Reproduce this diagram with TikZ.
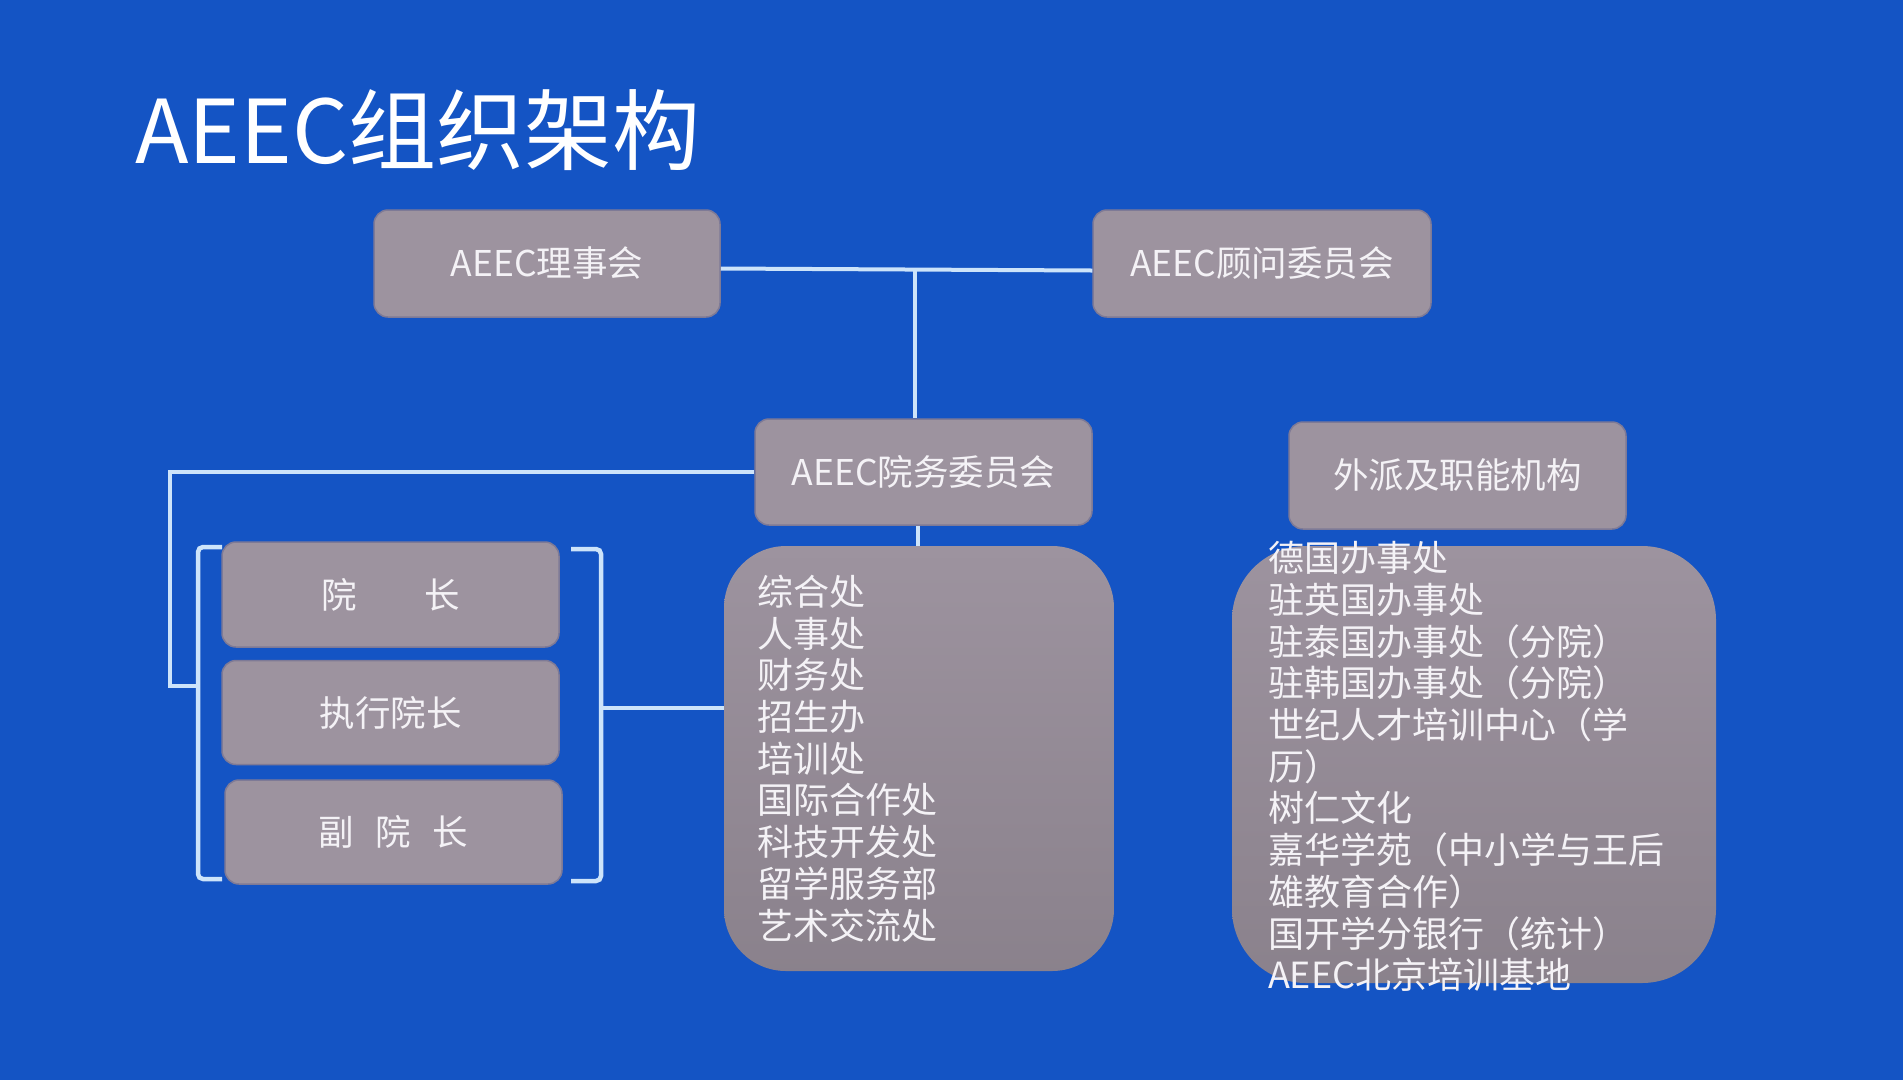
\documentclass[tikz,border=0pt]{standalone}
\usepackage{fontspec}
\setmainfont{Noto Sans CJK SC}
\usetikzlibrary{positioning}
\definecolor{aeecbg}{RGB}{20,84,196}
\definecolor{aeecbox}{RGB}{157,147,159}
\definecolor{aeecedge}{RGB}{126,122,150}
\definecolor{aeecline}{RGB}{205,228,250}
\definecolor{aeectext}{RGB}{244,242,246}
\tikzset{
  unitbox/.style={draw=aeecedge, line width=1.5pt, rounded corners=14pt, fill=aeecbox,
    text=aeectext, minimum width=337pt, minimum height=106pt, inner sep=0pt,
    font=\fontsize{35.5}{40}\selectfont},
  listbox/.style={draw=none, top color=aeecbox!100!white, bottom color=aeecbox!88!black,
    inner sep=0pt},
  listtext/.style={text=aeectext, align=left, inner sep=0pt, anchor=west,
    font=\fontsize{36}{41.7}\selectfont},
  link/.style={draw=aeecline, line width=4pt},
  bracket/.style={draw=aeecline, line width=4.5pt, rounded corners=5pt}
}
\begin{document}
\begin{tikzpicture}[x=1pt, y=-1pt, node distance=13pt]
    \fill[aeecbg] (0,0) rectangle (1903,1080);
    \node[anchor=west, text=white, inner sep=0pt, font=\fontsize{88}{100}\selectfont] (title) at (135,130) {AEEC组织架构};

    % top level
    \node[unitbox, minimum width=346pt, minimum height=107pt] (board) at (547,263.5) {AEEC理事会};
    \node[unitbox, minimum width=338pt, minimum height=107pt] (advisors) at (1262,263.5) {AEEC顾问委员会};
    \node[unitbox] (council) at (923.5,472) {AEEC院务委员会};
    \node[unitbox, minimum height=107pt] (outlets) at (1457.5,475.5) {外派及职能机构};

    % deans
    \node[unitbox, minimum height=105pt] (dean) at (390.5,594.5) {院\hspace{1.9em}长};
    \node[unitbox, minimum height=104pt, below=12pt of dean] (execdean) {执行院长};
    \node[unitbox, minimum height=104pt, below=14pt of execdean, xshift=3pt] (vicedean) {副\hspace{0.6em}院\hspace{0.6em}长};

    % lists
    \node[listbox, rounded corners=62pt, minimum width=390pt, minimum height=425pt] (depts) at (919,758.5) {};
    \node[listtext, right=33pt of depts.west] (deptnames) {综合处\\人事处\\财务处\\招生办\\培训处\\国际合作处\\科技开发处\\留学服务部\\艺术交流处};
    \node[listbox, rounded corners=74pt, minimum width=484pt, minimum height=437pt] (branches) at (1474,764.5) {};
    \node[listtext, right=36pt of branches.west, yshift=-2pt] (branchnames) {德国办事处\\驻英国办事处\\驻泰国办事处（分院）\\驻韩国办事处（分院）\\世纪人才培训中心（学\\历）\\树仁文化\\嘉华学苑（中小学与王后\\雄教育合作）\\国开学分银行（统计）\\AEEC北京培训基地};

    % brackets round the deans
    \coordinate (lbtop) at (222,547);
    \coordinate (lbbot) at (222,879);
    \coordinate (rbtop) at (571,549);
    \coordinate (rbbot) at (571,881);
    \draw[bracket] (lbtop) -- (198,547) -- (198,879) -- (lbbot);
    \draw[bracket] (rbtop) -- (601,549) -- (601,881) -- (rbbot);

    % connectors
    \coordinate (hub) at (915,269);
    \coordinate (bend) at (170,686);
    \coordinate (rbmid) at (601,708);
    \draw[link] ([yshift=-5pt]board.east) -- ([yshift=-7pt]advisors.west);
    \draw[link] (hub) -- (hub |- council.north);
    \draw[link] (council.west) -| (bend) -- (198,686);
    \draw[link] ([xshift=-6pt]council.south) -- ([xshift=-6pt]council.south |- depts.north);
    \draw[link] (rbmid) -- (rbmid -| depts.west);
\end{tikzpicture}
\end{document}
